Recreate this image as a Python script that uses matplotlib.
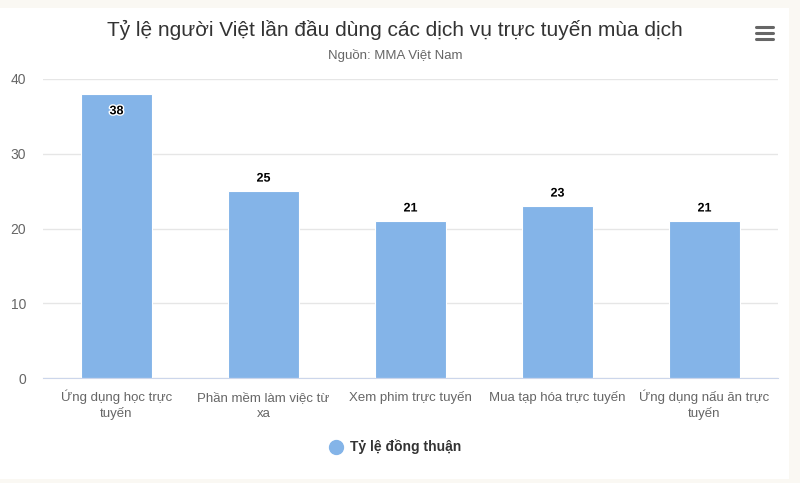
import numpy as np
import matplotlib
matplotlib.use("Agg")
from matplotlib import pyplot as plt
from matplotlib.patches import Rectangle
from matplotlib.lines import Line2D
import matplotlib.patheffects as pe

plt.rcParams['font.family'] = ['Liberation Sans', 'DejaVu Sans']

# data
categories = ["Ứng dụng học trực\ntuyến", "Phần mềm làm việc từ\nxa",
              "Xem phim trực tuyến", "Mua tạp hóa trực tuyến",
              "Ứng dụng nấu ăn trực\ntuyến"]
values = [38, 25, 21, 23, 21]
series_name = "Tỷ lệ đồng thuận"
yticks = [0, 10, 20, 30, 40]

W, H = 800, 483
bar_color = "#84b4e8"

fig = plt.figure(figsize=(W / 100, H / 100), dpi=100)
fig.patch.set_facecolor("#faf8f3")
# white chart card, kept behind the axes
fig.patches.append(Rectangle((0, 1 - 479 / H), 789 / W, (479 - 8) / H,
                             transform=fig.transFigure, facecolor="white",
                             edgecolor="none", zorder=-5))

ax = fig.add_axes([43 / W, 1 - 378 / H, 735 / W, 299 / H])
ax.set_zorder(2)
ax.set_facecolor("none")
x = np.arange(len(values))
ax.bar(x, values, width=0.48, color=bar_color, edgecolor="white",
       linewidth=0.8, zorder=3)
ax.set_xlim(-0.5, len(values) - 0.5)
ax.set_ylim(0, 40)
ax.set_yticks(yticks)
ax.set_yticklabels([str(v) for v in yticks], color="#666666", fontsize=10)
ax.set_xticks(x)
ax.set_xticklabels([])
ax.tick_params(axis="both", length=0)
ax.tick_params(axis="y", pad=12)
ax.grid(axis="y", color="#e6e6e6", linewidth=1, zorder=0)
for s in ["top", "right", "left"]:
    ax.spines[s].set_visible(False)
ax.spines["bottom"].set_color("#ccd6eb")
ax.spines["bottom"].set_zorder(4)

# category labels, line by line so every baseline lines up
xtrans = ax.get_xaxis_transform()
for xi, lab in zip(x, categories):
    for k, line in enumerate(lab.split("\n")):
        ax.annotate(line, (xi, 0), xycoords=xtrans,
                    xytext=(0, -16.5 - 11.5 * k), textcoords="offset points",
                    ha="center", va="baseline", fontsize=9.5, color="#666666",
                    annotation_clip=False)

# data labels: the tallest one sits inside the bar top
outline = [pe.withStroke(linewidth=2, foreground="white")]
for xi, v in zip(x, values):
    dy = -12.5 if v >= 38 else 9
    ax.annotate(str(v), (xi, v), xytext=(0, dy), textcoords="offset points",
                ha="center", va="center", fontsize=9, fontweight="bold",
                color="black", path_effects=outline, zorder=5)

fig.text(395 / W, 1 - 30 / H, "Tỷ lệ người Việt lần đầu dùng các dịch vụ trực tuyến mùa dịch",
         ha="center", va="center", fontsize=15, color="#333333")
fig.text(395 / W, 1 - 56 / H, "Nguồn: MMA Việt Nam",
         ha="center", va="center", fontsize=9.5, color="#666666")

# menu icon
for yy in [27, 33, 39]:
    fig.add_artist(Line2D([756 / W, 773 / W], [1 - yy / H, 1 - yy / H],
                          transform=fig.transFigure, color="#666666",
                          linewidth=2.2, solid_capstyle="round"))

# legend
fig.add_artist(Line2D([336 / W], [1 - 447 / H], marker="o", markersize=10,
                      color=bar_color, transform=fig.transFigure, linestyle="none"))
fig.text(350 / W, 1 - 447 / H, series_name, ha="left", va="center",
         fontsize=10, fontweight="bold", color="#333333")

fig.savefig("out.png", dpi=100, facecolor=fig.get_facecolor())
